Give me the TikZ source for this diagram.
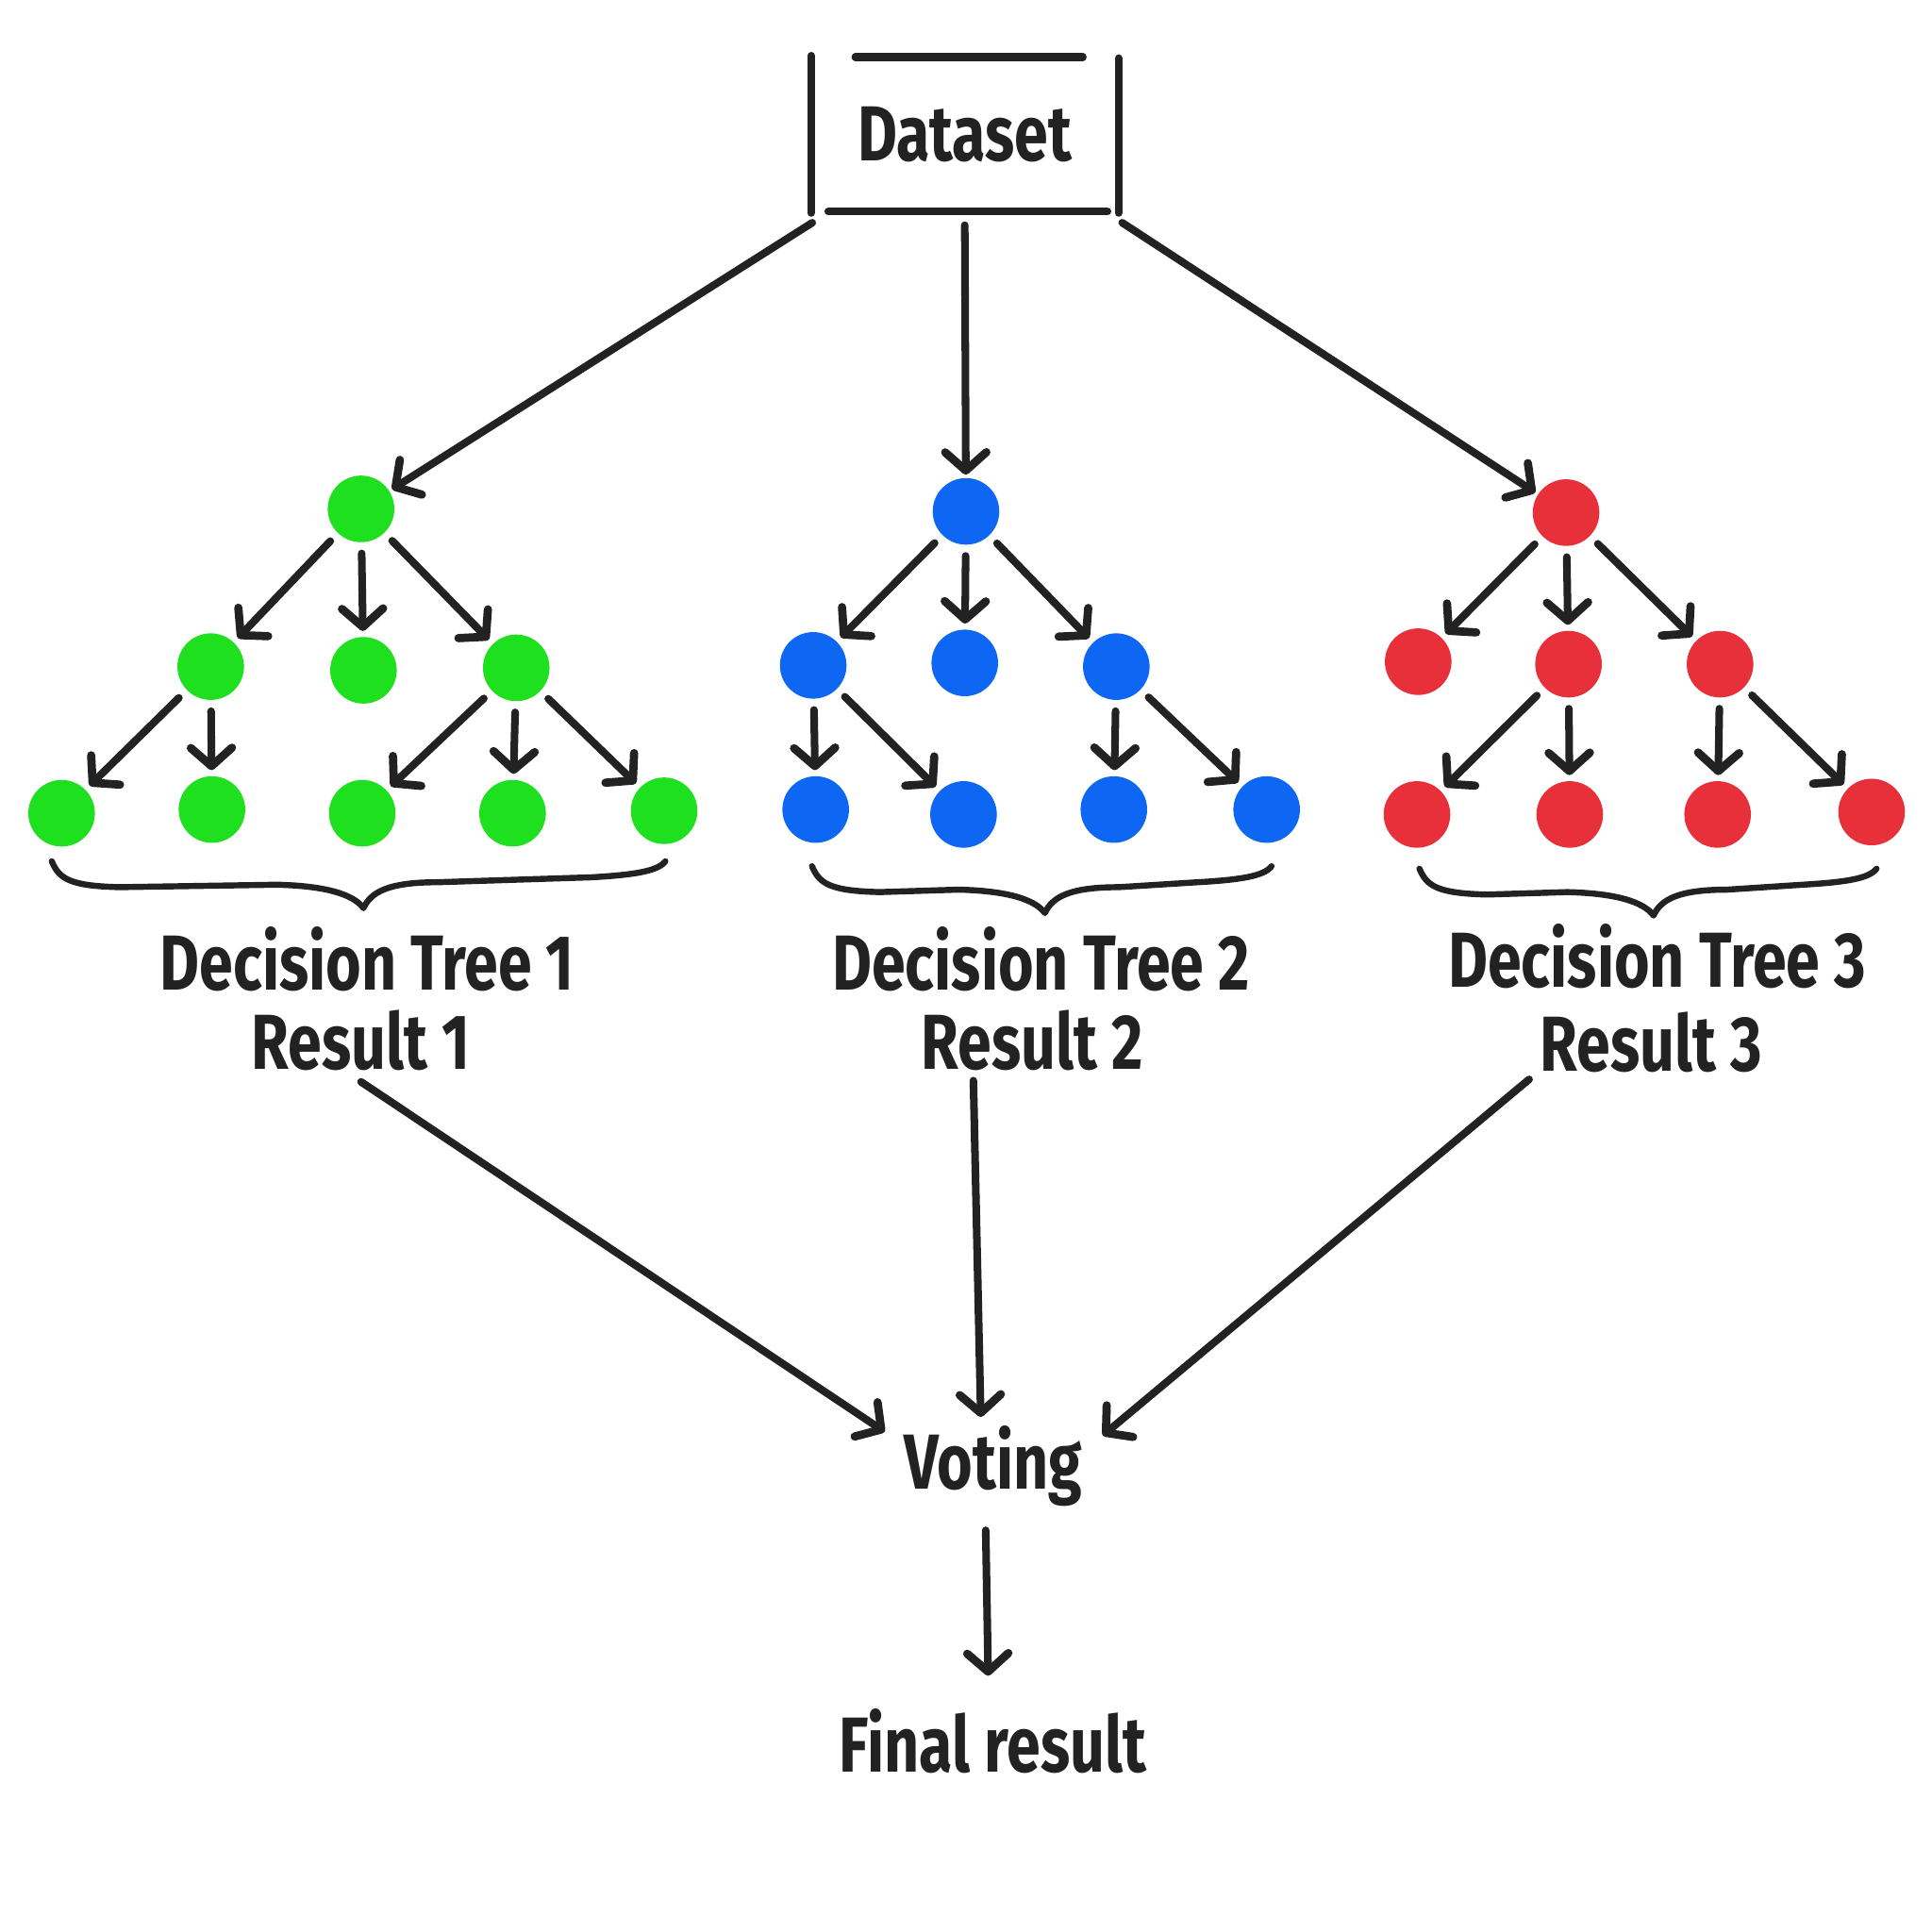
\documentclass[tikz,border=0pt]{standalone}
\usepackage{fontspec}
\setmainfont{Fira Sans}[FakeStretch=0.78]
\usetikzlibrary{arrows.meta,calc}
\definecolor{ink}{HTML}{222222}
\definecolor{cg}{HTML}{1FE01F}
\definecolor{cb}{HTML}{0D67F2}
\definecolor{cr}{HTML}{E8303A}
\tikzset{
  dot/.style={circle,inner sep=0pt,minimum size=0.54cm},
  gdot/.style={dot,fill=cg},
  bdot/.style={dot,fill=cb},
  rdot/.style={dot,fill=cr},
  arr/.style={draw=ink,line width=1.75pt,line cap=round,-{Straight Barb[length=4.2pt,width=9.5pt,line width=1.9pt,round]},shorten <=2.4pt,shorten >=1.2pt},
  bigarr/.style={arr,shorten <=0pt,shorten >=0.6pt},
  freearr/.style={arr,shorten <=0pt,shorten >=0pt},
  boxline/.style={draw=ink,line width=1.8pt,line cap=round},
  bracestyle/.style={draw=ink,line width=1.4pt,line cap=round,line join=round},
  lbl/.style={font=\fontsize{18}{22}\selectfont\bfseries,text=ink,inner sep=0pt,align=center},
}
\newcommand\hbrace[4]{%
  \draw[bracestyle] (#1,#4) .. controls (#1+6,#4+14) and (#1+14,#4+20) .. (#1+55,#4+21)
    -- (#2-70,#4+19) .. controls (#2-30,#4+20) and (#2-8,#4+27) .. (#2,#4+38)
    .. controls (#2+6,#4+25) and (#2+20,#4+17) .. (#2+60,#4+17)
    -- (#3-60,#4+13) .. controls (#3-25,#4+11) and (#3-6,#4+8) .. (#3,#4);}
\begin{document}
\begin{tikzpicture}[x=0.01cm,y=-0.01cm]
\useasboundingbox (0,0) rectangle (1568,1568);
\fill[white] (0,0) rectangle (1568,1568);
% Dataset box
\node[lbl,minimum width=2.48cm,minimum height=1.26cm] (ds) at (783,109) {Dataset};
\draw[boxline] (ds.north west) -- (ds.south west);
\draw[boxline] ($(ds.north east)+(0,2)$) -- (ds.south east);
\draw[boxline] ($(ds.north west)+(36,1)$) -- ($(ds.north east)+(-29,1)$);
\draw[boxline] ($(ds.south west)+(14,-1)$) -- ($(ds.south east)+(-9,-1)$);
\coordinate (dl) at ($(ds.south west)+(1,8)$);
\coordinate (dm) at ($(ds.south)+(0,10)$);
\coordinate (dr) at ($(ds.south east)+(3,8)$);
% Tree 1 (green)
\node[gdot] (g0) at (293,413) {};
\node[gdot] (g1) at (171,541) {};
\node[gdot] (g2) at (295,544) {};
\node[gdot] (g3) at (419,542) {};
\node[gdot] (g4) at (50,660) {};
\node[gdot] (g5) at (172,657) {};
\node[gdot] (g6) at (294,660) {};
\node[gdot] (g7) at (416,660) {};
\node[gdot] (g8) at (539,658) {};
% Tree 2 (blue)
\node[bdot] (b0) at (784,415) {};
\node[bdot] (b1) at (660,540) {};
\node[bdot] (b2) at (783,538) {};
\node[bdot] (b3) at (906,541) {};
\node[bdot] (b4) at (662,657) {};
\node[bdot] (b5) at (782,661) {};
\node[bdot] (b6) at (904,657) {};
\node[bdot] (b7) at (1028,657) {};
% Tree 3 (red)
\node[rdot] (r0) at (1271,416) {};
\node[rdot] (r1) at (1151,537) {};
\node[rdot] (r2) at (1273,539) {};
\node[rdot] (r3) at (1396,539) {};
\node[rdot] (r4) at (1150,661) {};
\node[rdot] (r5) at (1274,661) {};
\node[rdot] (r6) at (1394,661) {};
\node[rdot] (r7) at (1519,659) {};
% dataset arrows
\draw[bigarr] (dl) -- (g0);
\draw[bigarr] (dm) -- (b0);
\draw[bigarr] (dr) -- (r0);
% tree arrows
\foreach \a/\b in {g0/g1,g0/g2,g0/g3,g1/g4,g1/g5,g3/g6,g3/g7,g3/g8,
                   b0/b1,b0/b2,b0/b3,b1/b4,b1/b5,b3/b6,b3/b7,
                   r0/r1,r0/r2,r0/r3,r2/r4,r2/r5,r3/r6,r3/r7}
  \draw[arr] (\a) -- (\b);
% braces
\hbrace{42}{295}{540}{699}
\hbrace{659}{848}{1032}{703}
\hbrace{1152}{1342}{1523}{705}
% labels
\node[lbl] (t1) at (298,778) {Decision Tree 1};
\node[lbl] (s1) at (293,844) {Result 1};
\node[lbl] (t2) at (845,778) {Decision Tree 2};
\node[lbl] (s2) at (838,844) {Result 2};
\node[lbl] (t3) at (1345,776) {Decision Tree 3};
\node[lbl] (s3) at (1340,846) {Result 3};
\node[lbl] (vote) at (806,1190) {Voting};
\node[lbl] (fin) at (806,1413) {Final result};
% arrow end points near Voting / Final result
\coordinate (s1o) at (293,878);
\coordinate (s2o) at (790,877);
\coordinate (s3o) at (1241,876);
\coordinate (v1) at (718,1162);
\coordinate (v2) at (796,1150);
\coordinate (v3) at (895,1165);
\coordinate (vo) at (800,1242);
\coordinate (fi) at (802,1360);
\draw[freearr] (s1o) -- (v1);
\draw[freearr] (s2o) -- (v2);
\draw[freearr] (s3o) -- (v3);
\draw[freearr] (vo) -- (fi);
\end{tikzpicture}
\end{document}
